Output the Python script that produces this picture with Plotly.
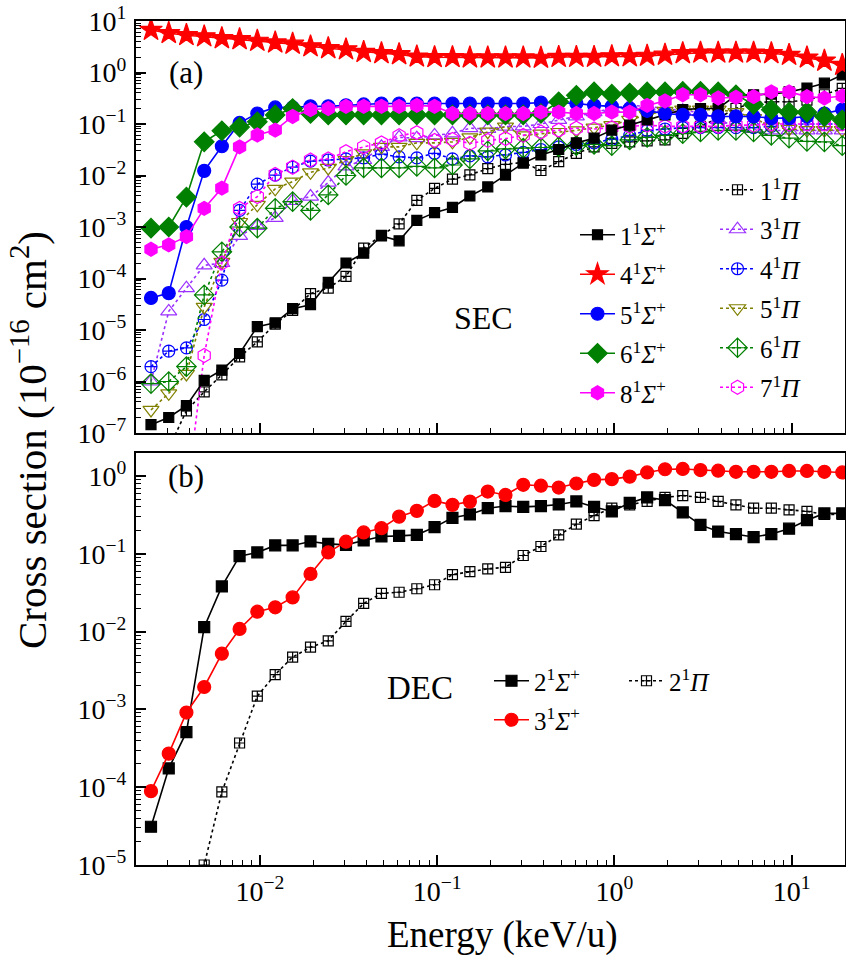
import plotly.graph_objects as go

# ---------------- data (energy in keV/u, cross sections in 1e-16 cm^2) ----------------
energy = [0.00243, 0.00306, 0.00385, 0.00485, 0.00610, 0.00768, 0.00967, 0.0122, 0.0153, 0.0193,
          0.0243, 0.0306, 0.0385, 0.0485, 0.0610, 0.0768, 0.0967, 0.122, 0.153, 0.193,
          0.243, 0.306, 0.385, 0.485, 0.610, 0.768, 0.967, 1.22, 1.53, 1.93,
          2.43, 3.06, 3.85, 4.85, 6.10, 7.68, 9.67, 12.2, 15.3, 19.3]

# panel (a) SEC
sec_1sig = [1.45e-7, 2.0e-7, 3.4e-7, 1.05e-6, 1.67e-6, 3.5e-6, 1.16e-5, 1.38e-5, 2.6e-5, 3.1e-5,
            8.4e-5, 2.0e-4, 3.1e-4, 6.7e-4, 5.4e-4, 1.35e-3, 1.9e-3, 2.4e-3, 4.0e-3, 6.0e-3,
            1.02e-2, 1.74e-2, 2.5e-2, 3.2e-2, 4.3e-2, 5.3e-2, 7.6e-2, 9.5e-2, 0.12, 0.15,
            0.19, 0.2, 0.2, 0.36, 0.37, 0.38, 0.42, 0.5, 0.62, 0.9]
sec_4sig = [6.7, 5.8, 5.3, 5.0, 4.6, 4.4, 4.1, 3.8, 3.6, 3.2,
            2.95, 2.8, 2.5, 2.36, 2.25, 2.03, 1.98, 1.98, 1.95, 1.95,
            1.95, 1.95, 1.92, 2.0, 2.0, 2.0, 2.05, 2.05, 2.1, 2.2,
            2.36, 2.42, 2.42, 2.42, 2.42, 2.36, 2.19, 1.94, 1.69, 1.40]
sec_5sig = [4.2e-5, 5.2e-5, 1.0e-3, 1.23e-2, 3.7e-2, 0.105, 0.16, 0.21, 0.21, 0.22,
            0.22, 0.23, 0.24, 0.25, 0.25, 0.25, 0.25, 0.25, 0.25, 0.25,
            0.25, 0.25, 0.26, 0.26, 0.25, 0.23, 0.22, 0.2, 0.18, 0.16,
            0.15, 0.15, 0.14, 0.14, 0.14, 0.13, 0.13, 0.14, 0.16, 0.19]
sec_6sig = [9.5e-4, 1.0e-3, 3.8e-3, 0.045, 0.074, 0.087, 0.11, 0.15, 0.2, 0.16,
            0.15, 0.15, 0.15, 0.15, 0.15, 0.15, 0.15, 0.15, 0.15, 0.15,
            0.15, 0.15, 0.16, 0.27, 0.36, 0.42, 0.38, 0.40, 0.42, 0.42,
            0.43, 0.43, 0.42, 0.37, 0.24, 0.19, 0.17, 0.17, 0.14, 0.12]
sec_8sig = [3.7e-4, 4.5e-4, 6.5e-4, 2.3e-3, 5.7e-3, 0.036, 0.061, 0.076, 0.14, 0.19,
            0.2, 0.22, 0.22, 0.22, 0.22, 0.23, 0.22, 0.16, 0.16, 0.16,
            0.16, 0.16, 0.17, 0.17, 0.16, 0.16, 0.17, 0.17, 0.23, 0.28,
            0.37, 0.37, 0.32, 0.33, 0.34, 0.42, 0.42, 0.34, 0.32, 0.35]
sec_1pi = [2e-8, 5e-8, 2.7e-7, 6.3e-7, 1.35e-6, 3.0e-6, 5.9e-6, 1.3e-5, 2.4e-5, 5.1e-5,
           6.5e-5, 1.1e-4, 3.9e-4, 6.9e-4, 1.15e-3, 3.3e-3, 5.6e-3, 8.5e-3, 1.03e-2, 1.36e-2,
           1.65e-2, 1.8e-2, 1.25e-2, 1.86e-2, 2.7e-2, 3.6e-2, 4.2e-2, 4.5e-2, 4.7e-2, 4.9e-2,
           6.6e-2, 9e-2, 0.13, 0.2, 0.26, 0.27, 0.27, 0.29, 0.37, 0.49]
sec_3pi = [1.0e-6, 2.3e-5, 6.5e-5, 1.8e-4, 2.0e-4, 6.7e-4, 1.05e-3, 1.5e-3, 3.2e-3, 3.9e-3,
           7.3e-3, 1.5e-2, 2.0e-2, 3.6e-2, 5.5e-2, 5.3e-2, 6.0e-2, 6.6e-2, 8.3e-2, 8.0e-2,
           8.9e-2, 9.0e-2, 0.1, 0.12, 0.14, 0.17, 0.2, 0.23, 0.22, 0.2,
           0.18, 0.17, 0.12, 0.09, 0.08, 0.075, 0.075, 0.075, 0.075, 0.075]
sec_4pi = [1.95e-6, 3.9e-6, 4.5e-6, 1.6e-5, 9.3e-5, 2.1e-3, 6.8e-3, 1.02e-2, 1.45e-2, 1.9e-2,
           2.0e-2, 2.1e-2, 2.2e-2, 2.6e-2, 2.3e-2, 2.2e-2, 2.7e-2, 2.1e-2, 2.4e-2, 2.3e-2,
           2.5e-2, 2.8e-2, 3.2e-2, 3.6e-2, 4.0e-2, 4.3e-2, 5.0e-2, 6.0e-2, 7.5e-2, 8.0e-2,
           8.5e-2, 8.5e-2, 8.5e-2, 8.5e-2, 8.5e-2, 9.0e-2, 9.5e-2, 0.1, 0.1, 0.1]
sec_5pi = [2.8e-7, 5.9e-7, 1.4e-6, 2.8e-5, 2.1e-4, 1.25e-3, 2.7e-3, 5.5e-3, 7.6e-3, 1.15e-2,
           1.4e-2, 2.0e-2, 2.7e-2, 3.6e-2, 3.6e-2, 4.3e-2, 4.3e-2, 4.5e-2, 5.5e-2, 7.1e-2,
           8.9e-2, 6.0e-2, 6.5e-2, 7.0e-2, 7.5e-2, 8.5e-2, 9.5e-2, 0.12, 0.15, 0.18,
           0.19, 0.19, 0.19, 0.17, 0.13, 0.09, 0.08, 0.076, 0.076, 0.076]
sec_6pi = [9.1e-7, 1.0e-6, 1.95e-6, 4.8e-5, 3.3e-4, 1.0e-3, 9.5e-4, 2.3e-3, 3.1e-3, 2.1e-3,
           4.2e-3, 1.0e-2, 1.4e-2, 1.4e-2, 1.4e-2, 1.5e-2, 1.4e-2, 1.6e-2, 2.1e-2, 3.0e-2,
           3.3e-2, 3.4e-2, 3.5e-2, 3.6e-2, 3.8e-2, 4.0e-2, 3.8e-2, 4.9e-2, 5.5e-2, 6.0e-2,
           6.5e-2, 7.0e-2, 7.5e-2, 7.5e-2, 7.0e-2, 6.0e-2, 5.3e-2, 4.6e-2, 4.5e-2, 3.8e-2]
sec_7pi = [1e-9, 2e-9, 6e-9, 3.2e-6, 2.0e-4, 2.3e-3, 3.9e-3, 1.05e-2, 1.45e-2, 2.0e-2,
           2.1e-2, 2.9e-2, 3.6e-2, 4.3e-2, 5.9e-2, 6.8e-2, 4.8e-2, 5.0e-2, 4.2e-2, 4.8e-2,
           5.2e-2, 6.0e-2, 7.0e-2, 7.6e-2, 8.3e-2, 8.0e-2, 8.5e-2, 0.09, 0.095, 0.09,
           0.09, 0.09, 0.09, 0.095, 0.095, 0.1, 0.1, 0.1, 0.1, 0.1]

# panel (b) DEC
dec_2sig = [3.1e-5, 1.74e-4, 5.1e-4, 1.14e-2, 3.8e-2, 9.3e-2, 0.104, 0.128, 0.128, 0.144,
            0.134, 0.13, 0.148, 0.167, 0.17, 0.175, 0.22, 0.29, 0.32, 0.385,
            0.41, 0.4, 0.41, 0.43, 0.47, 0.4, 0.35, 0.45, 0.53, 0.49,
            0.34, 0.235, 0.193, 0.179, 0.164, 0.179, 0.21, 0.27, 0.33, 0.33]
dec_3sig = [8.9e-5, 2.7e-4, 9.1e-4, 1.94e-3, 5.2e-3, 1.08e-2, 1.8e-2, 2.05e-2, 2.75e-2, 5.5e-2,
            0.104, 0.143, 0.188, 0.213, 0.3, 0.356, 0.478, 0.425, 0.468, 0.63,
            0.57, 0.77, 0.75, 0.71, 0.8, 0.89, 0.91, 0.98, 1.11, 1.22,
            1.23, 1.19, 1.17, 1.13, 1.13, 1.13, 1.16, 1.16, 1.13, 1.11]
dec_2pi = [1e-7, 5e-7, 2e-6, 1.0e-5, 8.7e-5, 3.7e-4, 1.48e-3, 2.8e-3, 4.7e-3, 6.3e-3,
           7.6e-3, 1.35e-2, 2.3e-2, 3.1e-2, 3.2e-2, 3.55e-2, 4.0e-2, 5.4e-2, 5.9e-2, 6.4e-2,
           6.7e-2, 0.095, 0.124, 0.175, 0.24, 0.31, 0.385, 0.425, 0.47, 0.53,
           0.56, 0.53, 0.47, 0.425, 0.385, 0.385, 0.367, 0.35, 0.32, 0.32]

x_tick_vals = [0.01, 0.1, 1, 10]
x_tick_text = ["10<sup>−2</sup>", "10<sup>−1</sup>", "10<sup>0</sup>", "10<sup>1</sup>"]
ya_tick_vals = [1e-7, 1e-6, 1e-5, 1e-4, 1e-3, 1e-2, 1e-1, 1, 10]
ya_tick_text = ["10<sup>−7</sup>", "10<sup>−6</sup>", "10<sup>−5</sup>", "10<sup>−4</sup>",
                "10<sup>−3</sup>", "10<sup>−2</sup>", "10<sup>−1</sup>", "10<sup>0</sup>", "10<sup>1</sup>"]
yb_tick_vals = [1e-5, 1e-4, 1e-3, 1e-2, 1e-1, 1]
yb_tick_text = ["10<sup>−5</sup>", "10<sup>−4</sup>", "10<sup>−3</sup>", "10<sup>−2</sup>",
                "10<sup>−1</sup>", "10<sup>0</sup>"]

FONT = "Liberation Serif"
BLACK, RED, BLUE, GREEN, MAGENTA = "#000000", "#ff0000", "#0000ff", "#008000", "#ff00ff"
PURPLE, OLIVE = "#9b30ff", "#808000"

fig = go.Figure()


def add(y, name, color, symbol, size, dash, xa, ya, legend, rank, lw=1.6):
    fig.add_trace(go.Scatter(
        x=energy, y=y, name=name, mode="lines+markers",
        line=dict(color=color, width=lw, dash=dash),
        marker=dict(symbol=symbol, size=size, color=color,
                    line=dict(color=color, width=1.2)),
        xaxis=xa, yaxis=ya, legend=legend, legendrank=rank, legendgroup=name))


# Pi states (dotted) first so the Sigma states sit on top
add(sec_1pi, "1<sup>1</sup><i>Π</i>", BLACK, "square-cross-open", 10, "dot", "x", "y", "legend2", 1)
add(sec_3pi, "3<sup>1</sup><i>Π</i>", PURPLE, "triangle-up-open", 14, "dot", "x", "y", "legend2", 2)
add(sec_4pi, "4<sup>1</sup><i>Π</i>", BLUE, "circle-cross-open", 12, "dot", "x", "y", "legend2", 3)
add(sec_5pi, "5<sup>1</sup><i>Π</i>", OLIVE, "triangle-down-open", 14, "dot", "x", "y", "legend2", 4)
add(sec_6pi, "6<sup>1</sup><i>Π</i>", GREEN, "diamond-cross-open", 15, "dot", "x", "y", "legend2", 5)
add(sec_7pi, "7<sup>1</sup><i>Π</i>", MAGENTA, "hexagon-open", 14, "dot", "x", "y", "legend2", 6)

add(sec_1sig, "1<sup>1</sup><i>Σ</i><sup>+</sup>", BLACK, "square", 10, "solid", "x", "y", "legend", 1)
add(sec_4sig, "4<sup>1</sup><i>Σ</i><sup>+</sup>", RED, "star", 17, "solid", "x", "y", "legend", 2)
add(sec_5sig, "5<sup>1</sup><i>Σ</i><sup>+</sup>", BLUE, "circle", 13, "solid", "x", "y", "legend", 3)
add(sec_6sig, "6<sup>1</sup><i>Σ</i><sup>+</sup>", GREEN, "diamond", 15, "solid", "x", "y", "legend", 4)
add(sec_8sig, "8<sup>1</sup><i>Σ</i><sup>+</sup>", MAGENTA, "hexagon", 14, "solid", "x", "y", "legend", 5)

add(dec_2pi, "2<sup>1</sup><i>Π</i>", BLACK, "square-cross-open", 10, "dot", "x2", "y2", "legend3", 2)
add(dec_2sig, "2<sup>1</sup><i>Σ</i><sup>+</sup>", BLACK, "square", 11, "solid", "x2", "y2", "legend3", 1)
add(dec_3sig, "3<sup>1</sup><i>Σ</i><sup>+</sup>", RED, "circle", 13, "solid", "x2", "y2", "legend4", 1)

x_minor = [m * 10.0 ** e for e in range(-3, 2) for m in range(2, 10)]
ya_minor = [m * 10.0 ** e for e in range(-7, 1) for m in range(2, 10)]
yb_minor = [m * 10.0 ** e for e in range(-5, 1) for m in range(2, 10)]

W, H = 846, 959
ML, MR, MT, MB = 136, 1, 21, 94
PW, PH = W - ML - MR, H - MT - MB


def px(xp):
    return (xp - ML) / PW


def py(yp):
    return (H - MB - yp) / PH


axis_common = dict(type="log", showgrid=False, zeroline=False, showline=True,
                   linecolor="black", linewidth=2, mirror=True, automargin=False,
                   ticks="inside", ticklen=10, tickwidth=1.5, tickcolor="black",
                   tickfont=dict(family=FONT, size=28, color="black"))

minor_common = dict(ticks="inside", ticklen=5, tickwidth=1, tickcolor="black")

leg_font = dict(family=FONT, size=25, color="black")

fig.update_layout(
    width=W, height=H,
    margin=dict(l=ML, r=MR, t=MT, b=MB, autoexpand=False),
    paper_bgcolor="white", plot_bgcolor="white",
    font=dict(family=FONT, color="black"),
    xaxis=dict(axis_common, range=[-2.699, 1.301], anchor="y", showticklabels=False,
               tickvals=x_tick_vals, ticktext=x_tick_text,
               minor=dict(minor_common, tickvals=x_minor)),
    yaxis=dict(axis_common, range=[-7, 1], domain=[py(433), 1], anchor="x",
               tickvals=ya_tick_vals, ticktext=ya_tick_text, ticklabelstandoff=2,
               minor=dict(minor_common, tickvals=ya_minor)),
    xaxis2=dict(axis_common, range=[-2.699, 1.301], anchor="y2",
                tickvals=x_tick_vals, ticktext=x_tick_text,
                minor=dict(minor_common, tickvals=x_minor)),
    yaxis2=dict(axis_common, range=[-5, 0.295], domain=[0, py(453)], anchor="x2",
                tickvals=yb_tick_vals, ticktext=yb_tick_text, ticklabelstandoff=2,
                minor=dict(minor_common, tickvals=yb_minor)),
    legend=dict(x=px(575), y=py(212), xanchor="left", yanchor="top", bgcolor="rgba(0,0,0,0)",
                font=leg_font, tracegroupgap=4, itemwidth=35, traceorder="grouped"),
    legend2=dict(x=px(715), y=py(167), xanchor="left", yanchor="top", bgcolor="rgba(0,0,0,0)",
                 font=leg_font, tracegroupgap=4, itemwidth=35, traceorder="grouped"),
    legend3=dict(x=px(489), y=py(658), xanchor="left", yanchor="top", bgcolor="rgba(0,0,0,0)",
                 orientation="h", entrywidth=85, itemwidth=35, font=leg_font),
    legend4=dict(x=px(489), y=py(697), xanchor="left", yanchor="top", bgcolor="rgba(0,0,0,0)",
                 orientation="h", itemwidth=35, font=leg_font),
    showlegend=True,
)


def label(text, x, y, size, angle=0):
    return dict(text=text, x=px(x), y=py(y), xref="paper", yref="paper", showarrow=False,
                xanchor="center", yanchor="middle", textangle=angle,
                font=dict(family=FONT, size=size, color="black"))


annotations = [
    label("(a)", 186, 73, 31),
    label("(b)", 186, 476, 31),
    label("SEC", 483, 318, 32),
    label("DEC", 420, 688, 33),
    label("Cross section (10<sup>−16</sup> cm<sup>2</sup>)", 29, 440, 41, -90),
    label("Energy (keV/u)", 502, 935, 37),
]
fig.update_layout(annotations=annotations)

fig.write_html("out.html", config={"displayModeBar": False},
               post_script="document.body.style.margin='0';document.body.style.padding='0';")
